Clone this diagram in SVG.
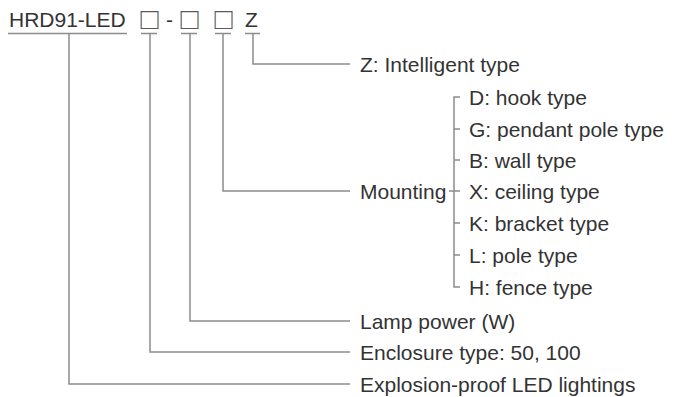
<svg xmlns="http://www.w3.org/2000/svg" width="673" height="397" viewBox="0 0 673 397">
<style>
text{font-family:"Liberation Sans",Arial,sans-serif;font-size:21px;fill:#333}
.box{font-size:30px;fill:#5a5a5a}
.ln{fill:none;stroke:#8c8c8c;stroke-width:1.5}
</style>
<rect width="673" height="397" fill="#fff"/>
<g id="code">
<text x="9" y="27">HRD91-LED</text>
<text class="box" x="140.5" y="28.5">□</text>
<text x="166" y="27">-</text>
<text class="box" x="180.5" y="28.5">□</text>
<text class="box" x="214.5" y="28.5">□</text>
<text x="245" y="27">Z</text>
</g>
<g id="connectors" class="ln">
<path d="M8 33.5H127M141 33.5H157M181 33.5H197M215 33.5H231M245 33.5H260"/>
<path d="M69 33.5V384H350"/>
<path d="M150 33.5V352H350"/>
<path d="M190 33.5V321H350"/>
<path d="M223 33.5V191H350"/>
<path d="M253 33.5V64H350"/>
<path d="M460 97H454V287H460M454 129H460M454 160H460M454 191H460M454 223H460M454 255H460M449 191H454"/>
</g>
<g id="z"><text x="360" y="71.5">Z: Intelligent type</text></g>
<g id="mounting"><text x="360" y="198.5">Mounting</text></g>
<g id="mount-options">
<text x="469" y="104.5">D: hook type</text>
<text x="469" y="136.5">G: pendant pole type</text>
<text x="469" y="167.5">B: wall type</text>
<text x="469" y="198.5">X: ceiling type</text>
<text x="469" y="230.5">K: bracket type</text>
<text x="469" y="262.5">L: pole type</text>
<text x="469" y="294.5">H: fence type</text>
</g>
<g id="power"><text x="360" y="328.5">Lamp power (W)</text></g>
<g id="enclosure"><text x="360" y="359.5">Enclosure type: 50, 100</text></g>
<g id="product"><text x="360" y="391.5">Explosion-proof LED lightings</text></g>
</svg>
